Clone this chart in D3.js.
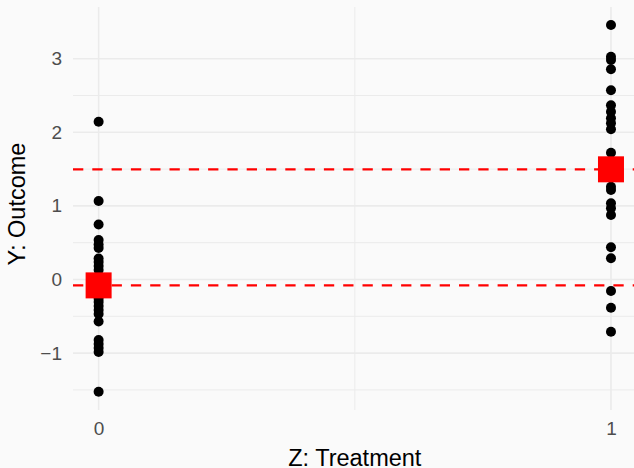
<!DOCTYPE html>
<html>
<head>
<meta charset="utf-8">
<script src="https://cdn.jsdelivr.net/npm/d3@7"></script>
<style>
  html, body { margin: 0; padding: 0; background: #fafafa; }
  svg { display: block; font-family: "Liberation Sans", Arial, sans-serif; }
</style>
</head>
<body>
<svg id="chart" width="634" height="468"></svg>
<script>
// Treatment groups on the x axis
const groups = [0, 1];

// Observed outcomes for the control group (Z = 0)
const outcomeControl = [
  2.144, 1.067, 0.747, 0.537, 0.476, 0.428, 0.285, 0.238, 0.183, 0.129,
  0.02, -0.06, -0.13, -0.2, -0.26,
  -0.306, -0.360, -0.414, -0.469, -0.571, -0.823, -0.877, -0.931, -0.985, -1.524
];

// Observed outcomes for the treated group (Z = 1)
const outcomeTreated = [
  3.458, 3.027, 2.982, 2.856, 2.571, 2.368, 2.280, 2.190, 2.122, 2.041,
  1.723, 1.55, 1.45, 1.261, 1.216, 1.035, 0.967, 0.876, 0.438, 0.288,
  -0.156, -0.383, -0.709
];

// Group means shown as squares and dashed reference lines
const groupMeans = [-0.08, 1.497];

// Axis ticks
const xTicks = [0, 1];
const yTicks = [-1, 0, 1, 2, 3];
const yMinorTicks = [-1.5, -0.5, 0.5, 1.5, 2.5];
const xMinorTicks = [0.5];

const W = 634, H = 468;
const panel = { left: 73, right: 636.6, top: 7, bottom: 410 };

const svg = d3.select("#chart");

const x = d3.scaleLinear().domain([-0.05, 1.05]).range([panel.left, panel.right]);
const y = d3.scaleLinear()
  .domain([(279.5 - panel.bottom) / 73.6, (279.5 - panel.top) / 73.6])
  .range([panel.bottom, panel.top]);

svg.append("rect").attr("width", W).attr("height", H).attr("fill", "#fafafa");

// Grid
const grid = svg.append("g");
grid.selectAll(".ymin").data(yMinorTicks).join("line")
  .attr("x1", panel.left).attr("x2", panel.right)
  .attr("y1", d => y(d)).attr("y2", d => y(d))
  .attr("stroke", "#ebebeb").attr("stroke-width", 1);
grid.selectAll(".xmin").data(xMinorTicks).join("line")
  .attr("y1", panel.top).attr("y2", panel.bottom)
  .attr("x1", d => x(d)).attr("x2", d => x(d))
  .attr("stroke", "#ebebeb").attr("stroke-width", 1);
grid.selectAll(".ymaj").data(yTicks).join("line")
  .attr("x1", panel.left).attr("x2", panel.right)
  .attr("y1", d => y(d)).attr("y2", d => y(d))
  .attr("stroke", "#ebebeb").attr("stroke-width", 1.6);
grid.selectAll(".xmaj").data(xTicks).join("line")
  .attr("y1", panel.top).attr("y2", panel.bottom)
  .attr("x1", d => x(d)).attr("x2", d => x(d))
  .attr("stroke", "#ebebeb").attr("stroke-width", 1.6);

// Axes (text only, no domain or tick marks)
const fmt = d => (d < 0 ? "\u2212" + Math.abs(d) : String(d));
const yAxis = svg.append("g")
  .attr("transform", `translate(${panel.left},0)`)
  .call(d3.axisLeft(y).tickValues(yTicks).tickFormat(fmt).tickSize(0).tickPadding(11));
const xAxis = svg.append("g")
  .attr("transform", `translate(0,${panel.bottom})`)
  .call(d3.axisBottom(x).tickValues(xTicks).tickFormat(fmt).tickSize(0).tickPadding(12));
[yAxis, xAxis].forEach(a => {
  a.select(".domain").remove();
  a.selectAll("text")
    .attr("fill", "#4d4d4d")
    .style("font-size", "19px")
    .style("font-family", "'Liberation Sans', Arial, sans-serif");
});

// Dashed mean lines
svg.append("g").selectAll("line").data(groupMeans).join("line")
  .attr("x1", panel.left).attr("x2", panel.right)
  .attr("y1", d => y(d)).attr("y2", d => y(d))
  .attr("stroke", "#ff0000").attr("stroke-width", 2.2)
  .attr("stroke-dasharray", "10.3 9");

// Observations
const points = [
  ...outcomeControl.map(v => ({ z: groups[0], v })),
  ...outcomeTreated.map(v => ({ z: groups[1], v }))
];
svg.append("g").selectAll("circle").data(points).join("circle")
  .attr("cx", d => x(d.z)).attr("cy", d => y(d.v))
  .attr("r", 5).attr("fill", "#000");

// Mean squares
const sq = 26;
svg.append("g").selectAll("rect").data(groups).join("rect")
  .attr("x", (d, i) => x(d) - sq / 2).attr("y", (d, i) => y(groupMeans[i]) - sq / 2)
  .attr("width", sq).attr("height", sq).attr("fill", "#ff0000");

// Axis titles
svg.append("text")
  .attr("x", (panel.left + panel.right) / 2).attr("y", 465.5)
  .attr("text-anchor", "middle").attr("fill", "#000")
  .style("font-size", "23.5px").text("Z: Treatment");
svg.append("text")
  .attr("transform", `translate(25,204) rotate(-90)`)
  .attr("text-anchor", "middle").attr("fill", "#000")
  .style("font-size", "23.5px").text("Y: Outcome");
</script>
</body>
</html>
